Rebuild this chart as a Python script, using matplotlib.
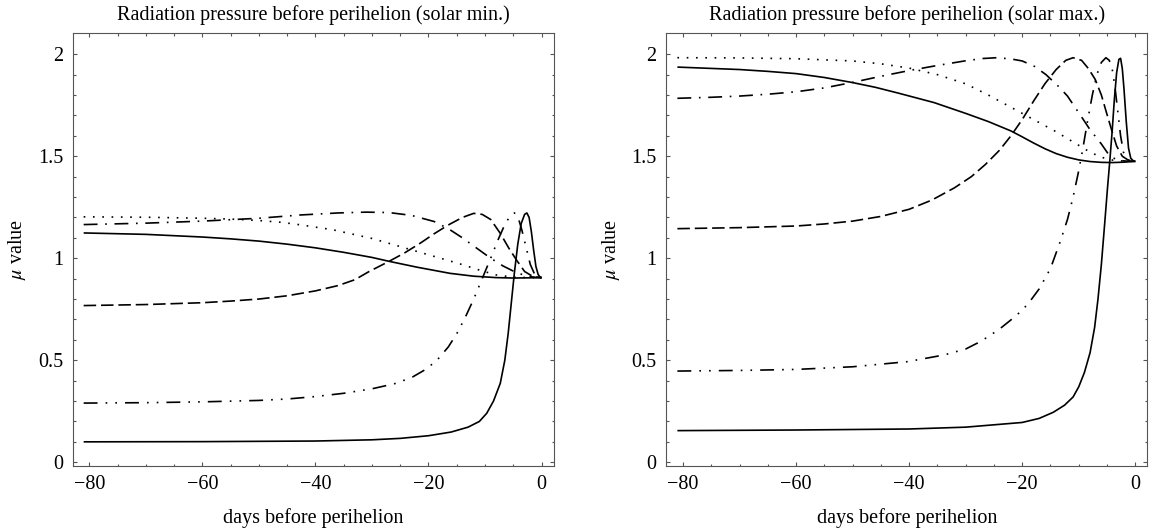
import matplotlib
matplotlib.use("Agg")
import matplotlib.pyplot as plt
import numpy as np

plt.rcParams['font.family'] = ['Liberation Serif', 'DejaVu Serif']
plt.rcParams['mathtext.fontset'] = 'stix'
plt.rcParams['lines.scale_dashes'] = False

# ---------------- data: solar minimum (left panel) ----------------
min_solid_top_x = [-81, -70, -60, -55, -50, -45, -40, -35, -30, -27, -22, -16.2, -12, -8, -5, -2, 0]
min_solid_top_y = [1.124, 1.117, 1.104, 1.095, 1.084, 1.069, 1.051, 1.029, 1.004, 0.985, 0.956, 0.926, 0.912, 0.905, 0.903, 0.904, 0.905]

min_dotted_x = [-81, -70, -60, -55, -50, -46, -43, -37, -30, -25, -20, -16, -13.8, -11, -8, -5, -2, 0]
min_dotted_y = [1.203, 1.201, 1.196, 1.192, 1.185, 1.176, 1.165, 1.14, 1.097, 1.057, 1.017, 0.985, 0.967, 0.942, 0.918, 0.907, 0.905, 0.905]

min_dashdot_x = [-81, -70, -60, -50, -42.7, -36, -31, -27, -23, -19, -16.5, -14, -11.5, -9, -6.8, -4.5, -2.5, -1, 0]
min_dashdot_y = [1.165, 1.172, 1.182, 1.196, 1.212, 1.222, 1.226, 1.224, 1.21, 1.18, 1.145, 1.10, 1.05, 1.0, 0.962, 0.93, 0.912, 0.906, 0.905]

min_dashed_x = [-81, -70, -60, -55, -50, -45, -40, -36, -33, -30.5, -27.1, -24.3, -21.5, -19, -16.5, -14, -12, -10.5, -9, -7.3, -5.8, -4.4, -3, -1.5, 0]
min_dashed_y = [0.768, 0.773, 0.782, 0.79, 0.8, 0.816, 0.84, 0.866, 0.895, 0.935, 0.983, 1.025, 1.073, 1.12, 1.163, 1.2, 1.22, 1.215, 1.19, 1.122, 1.05, 0.99, 0.935, 0.91, 0.905]

min_dashdotdot_x = [-81, -70, -60, -50, -45, -40, -35, -30, -26, -23, -20.5, -18.5, -16.5, -15, -13.5, -12, -10.5, -9, -7.7, -6.5, -5.5, -4.8, -4.2, -3.5, -2.7, -2, -1.2, -0.5, 0]
min_dashdotdot_y = [0.29, 0.292, 0.296, 0.303, 0.31, 0.322, 0.338, 0.36, 0.385, 0.415, 0.455, 0.5, 0.565, 0.63, 0.71, 0.80, 0.9, 1.0, 1.09, 1.165, 1.21, 1.222, 1.205, 1.14, 1.05, 0.97, 0.92, 0.906, 0.905]

min_solid_low_x = [-81, -60, -40, -30, -25, -20, -16, -13, -11, -9.7, -8.5, -7.3, -6.5, -5.9, -5.3, -4.8, -4.2, -3.6, -3.0, -2.6, -2.2, -1.8, -1.4, -1.0, -0.6, -0.2, 0]
min_solid_low_y = [0.1, 0.101, 0.104, 0.11, 0.117, 0.13, 0.148, 0.172, 0.2, 0.24, 0.3, 0.387, 0.5, 0.632, 0.795, 0.93, 1.07, 1.17, 1.215, 1.222, 1.2, 1.13, 1.04, 0.96, 0.92, 0.906, 0.905]

# ---------------- data: solar maximum (right panel) ----------------
max_solid_top_x = [-81, -70, -65, -60, -55, -50, -46, -42, -35.6, -30, -26, -22, -20, -18, -16, -14, -12, -10, -8, -6, -4, -2, 0]
max_solid_top_y = [1.937, 1.925, 1.916, 1.905, 1.886, 1.861, 1.838, 1.81, 1.763, 1.71, 1.67, 1.624, 1.595, 1.565, 1.537, 1.513, 1.495, 1.482, 1.474, 1.47, 1.469, 1.471, 1.475]

max_dotted_x = [-81, -70, -60, -50, -45, -40, -35, -30, -26, -22, -18, -14, -11, -8, -6, -4, -2, 0]
max_dotted_y = [1.983, 1.982, 1.978, 1.967, 1.953, 1.932, 1.9, 1.855, 1.8, 1.74, 1.68, 1.62, 1.57, 1.52, 1.495, 1.481, 1.476, 1.475]

max_dashdot_x = [-81, -75, -70, -65, -60, -55, -50, -45, -40, -35, -30, -27, -24.5, -22, -20, -17.8, -15.8, -13.5, -12, -9.2, -8, -6, -4.5, -3, -1.5, 0]
max_dashdot_y = [1.784, 1.789, 1.795, 1.804, 1.816, 1.835, 1.862, 1.892, 1.92, 1.945, 1.968, 1.979, 1.983, 1.977, 1.967, 1.94, 1.90, 1.84, 1.795, 1.68, 1.63, 1.56, 1.50, 1.48, 1.476, 1.475]

max_dashed_x = [-81, -70, -60, -55, -50, -45, -40, -36, -32, -29, -26.5, -24, -22, -20, -18, -16, -14, -12.3, -11, -9.5, -8.3, -7.1, -6, -5.1, -4.2, -3.3, -2.3, -1.2, 0]
max_dashed_y = [1.145, 1.15, 1.158, 1.168, 1.182, 1.205, 1.24, 1.285, 1.345, 1.40, 1.46, 1.53, 1.6, 1.68, 1.77, 1.855, 1.925, 1.97, 1.983, 1.97, 1.93, 1.877, 1.8, 1.714, 1.63, 1.55, 1.5, 1.48, 1.475]

max_dashdotdot_x = [-81, -70, -60, -50, -40.3, -33.8, -30, -27.3, -24.1, -21, -19, -17, -15, -13.3, -12, -11, -10, -9.2, -8.4, -7.6, -6.8, -6, -5.2, -4.6, -4.1, -3.6, -3.1, -2.6, -2.1, -1.5, -0.8, 0]
max_dashdotdot_y = [0.447, 0.45, 0.455, 0.468, 0.493, 0.526, 0.555, 0.593, 0.651, 0.72, 0.775, 0.85, 0.95, 1.08, 1.19, 1.30, 1.43, 1.55, 1.68, 1.80, 1.90, 1.96, 1.983, 1.97, 1.93, 1.84, 1.72, 1.6, 1.52, 1.485, 1.476, 1.475]

max_solid_low_x = [-81, -60, -40, -30, -20, -17, -14.5, -12.5, -11, -10, -9, -8, -7.2, -6.6, -6, -5.4, -4.9, -4.5, -4.1, -3.7, -3.3, -2.9, -2.6, -2.3, -2.0, -1.6, -1.2, -0.8, -0.3, 0]
max_solid_low_y = [0.155, 0.158, 0.163, 0.172, 0.195, 0.215, 0.245, 0.28, 0.32, 0.37, 0.44, 0.537, 0.66, 0.8, 0.97, 1.175, 1.35, 1.48, 1.62, 1.78, 1.91, 1.975, 1.98, 1.93, 1.83, 1.67, 1.54, 1.49, 1.476, 1.475]

titles = ["Radiation pressure before perihelion (solar min.)",
          "Radiation pressure before perihelion (solar max.)"]
xlabel = "days before perihelion"
ylabel = r"$\mu$ value"

# ---------------- styles ----------------
DOT = (0, (1.2, 5.5))
DASH = (0, (9.0, 3.5))
DASHDOT = (0, (10.0, 5.5, 1.2, 5.5))
DASHDOTDOT = (0, (10.0, 5.8, 1.2, 5.8, 1.2, 5.8))
SOLID = '-'

panels = [
    [(min_solid_top_x, min_solid_top_y, SOLID),
     (min_dotted_x, min_dotted_y, DOT),
     (min_dashdot_x, min_dashdot_y, DASHDOT),
     (min_dashed_x, min_dashed_y, DASH),
     (min_dashdotdot_x, min_dashdotdot_y, DASHDOTDOT),
     (min_solid_low_x, min_solid_low_y, SOLID)],
    [(max_solid_top_x, max_solid_top_y, SOLID),
     (max_dotted_x, max_dotted_y, DOT),
     (max_dashdot_x, max_dashdot_y, DASHDOT),
     (max_dashed_x, max_dashed_y, DASH),
     (max_dashdotdot_x, max_dashdotdot_y, DASHDOTDOT),
     (max_solid_low_x, max_solid_low_y, SOLID)],
]

fig = plt.figure(figsize=(11.52, 5.31), dpi=100)
positions = [[0.0631, 0.1218, 0.4175, 0.8164], [0.5785, 0.1218, 0.4175, 0.8164]]
FS = 14.5
spine_col = '#555555'

for pos, title, curves in zip(positions, titles, panels):
    ax = fig.add_axes(pos)
    for xs, ys, ls in curves:
        ax.plot(xs, ys, color='black', lw=1.2, linestyle=ls,
                solid_capstyle='butt', dash_capstyle='butt',
                solid_joinstyle='round')
    ax.set_xlim(-82.94, 2.14)
    ax.set_ylim(-0.02, 2.105)
    ax.set_xticks([-80, -60, -40, -20, 0])
    ax.set_xticklabels(['\u221280', '\u221260', '\u221240', '\u221220', '0'])
    ax.set_xticks(np.arange(-80, 1, 5), minor=True)
    ax.set_yticks([0, 0.5, 1, 1.5, 2])
    ax.set_yticklabels(['0', '0.5', '1', '1.5', '2'])
    ax.set_yticks(np.arange(0, 2.05, 0.1), minor=True)
    ax.tick_params(which='both', direction='in', top=True, right=True,
                   color=spine_col, width=0.8, labelsize=FS)
    ax.tick_params(which='major', length=3.2)
    ax.tick_params(which='minor', length=1.8)
    ax.tick_params(axis='x', which='major', pad=6.5)
    ax.tick_params(axis='y', which='major', pad=7)
    for s in ax.spines.values():
        s.set_color(spine_col)
        s.set_linewidth(0.8)
    ax.set_title(title, fontsize=FS, pad=9.5)
    ax.set_xlabel(xlabel, fontsize=FS, labelpad=10)
    ax.set_ylabel(ylabel, fontsize=FS, labelpad=7)

fig.savefig('out.png', dpi=100)
